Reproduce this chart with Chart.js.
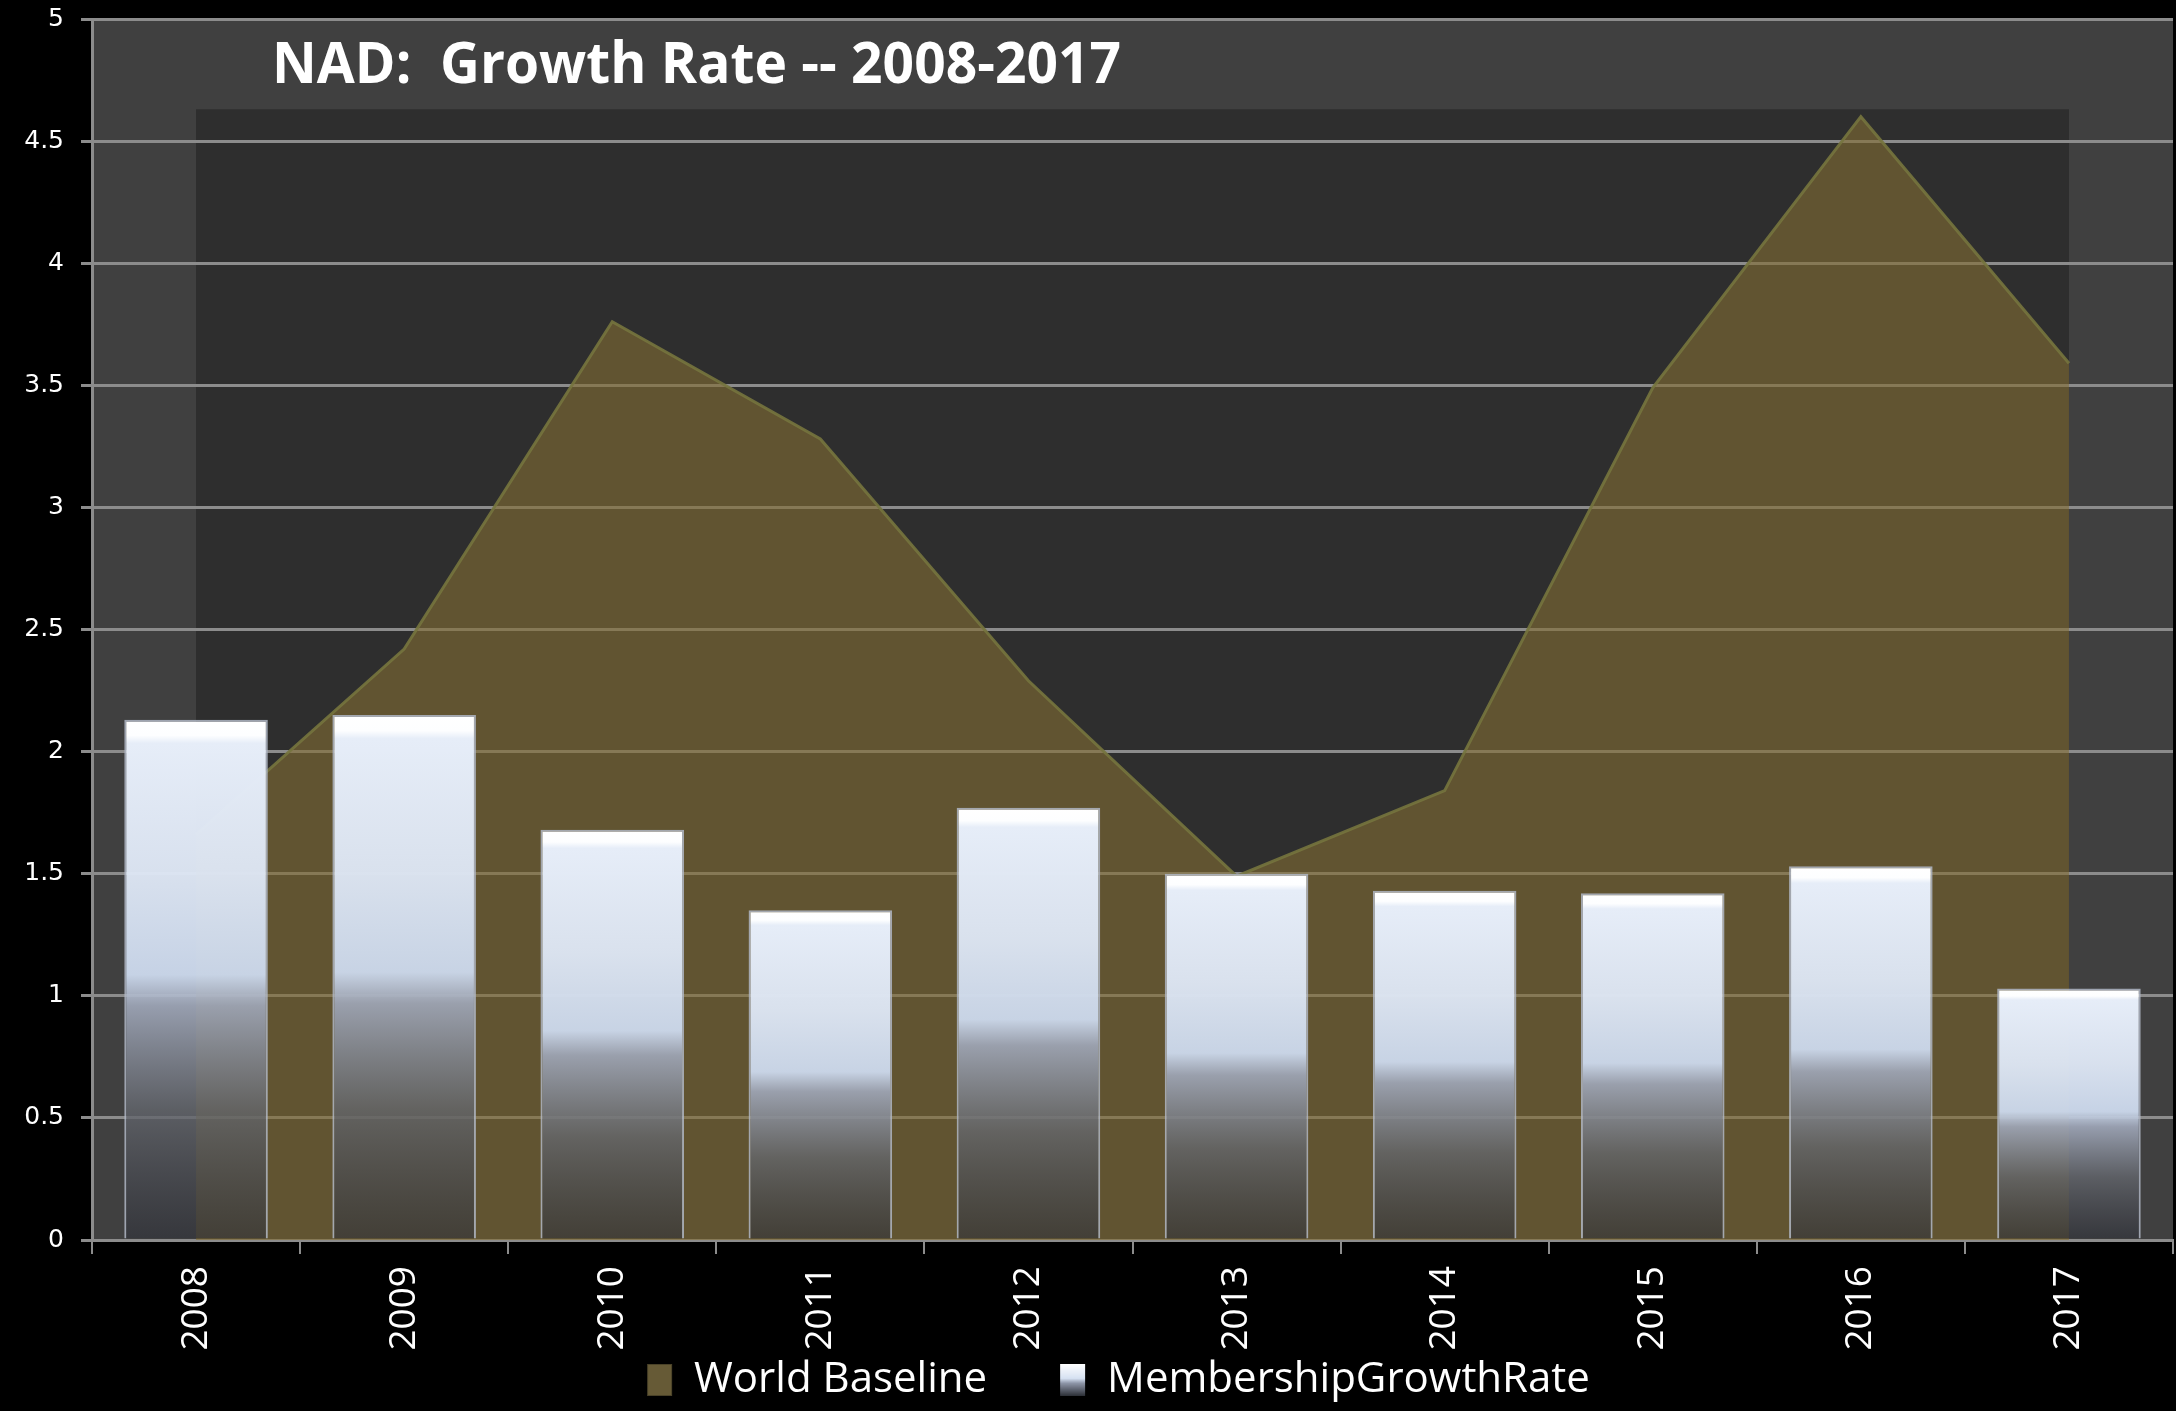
<!DOCTYPE html>
<html>
<head>
<meta charset="utf-8">
<title>NAD: Growth Rate -- 2008-2017</title>
<script src="https://cdn.jsdelivr.net/npm/chart.js@4.4.1/dist/chart.umd.min.js"></script>
<style>
  html, body { margin: 0; padding: 0; background: #000; }
  #wrap { width: 2176px; height: 1411px; }
</style>
</head>
<body>
<div id="wrap"><canvas id="growthChart" width="2176" height="1411"></canvas></div>
<script>
  const TITLE_TEXT = "NAD:  Growth Rate -- 2008-2017";
  const years = ["2008", "2009", "2010", "2011", "2012", "2013", "2014", "2015", "2016", "2017"];
  const membershipGrowthRate = [2.13, 2.15, 1.68, 1.35, 1.77, 1.50, 1.43, 1.42, 1.53, 1.03];
  const worldBaseline = [1.66, 2.42, 3.76, 3.28, 2.29, 1.49, 1.84, 3.49, 4.60, 3.59];
  // darker inner panel behind the area (Excel plot-area decoration)
  const innerPanel = [4.63, 4.63, 4.63, 4.63, 4.63, 4.63, 4.63, 4.63, 4.63, 4.63];
  const yMin = 0;
  const yMax = 5;
  const yStep = 0.5;

  const GRID_GRAY = "#8c8c8c";

  function barGradient(context) {
    const chart = context.chart;
    if (!chart.chartArea || context.type !== "data") return "#dde6f3";
    const yScale = chart.scales.y;
    const top = yScale.getPixelForValue(context.raw);
    const base = yScale.getPixelForValue(0);
    if (!isFinite(top) || !isFinite(base) || base - top < 2) return "#dde6f3";
    const g = chart.ctx.createLinearGradient(0, top, 0, base);
    g.addColorStop(0, "#ffffff");
    g.addColorStop(0.03, "#fdfeff");
    g.addColorStop(0.045, "#e6edf8");
    g.addColorStop(0.3, "rgba(222,231,245,0.96)");
    g.addColorStop(0.49, "rgba(205,218,238,0.95)");
    g.addColorStop(0.55, "rgba(160,168,186,0.9)");
    g.addColorStop(0.75, "rgba(100,103,110,0.78)");
    g.addColorStop(1, "rgba(48,50,58,0.62)");
    return g;
  }

  function legendMarker(kind) {
    // wide transparent canvas, swatch at its right end
    const c = document.createElement("canvas");
    c.width = 90;
    c.height = 34;
    const ctx = c.getContext("2d");
    const x = 64;
    if (kind === "area") {
      ctx.fillStyle = "#665a36";
      ctx.fillRect(x, 1, 25, 32);
      ctx.strokeStyle = "#4a4228";
      ctx.strokeRect(x + 0.5, 1.5, 24, 31);
    } else {
      const g = ctx.createLinearGradient(0, 1, 0, 33);
      g.addColorStop(0, "#ffffff");
      g.addColorStop(0.45, "#d6e1f2");
      g.addColorStop(0.6, "#8e96a8");
      g.addColorStop(1, "#2c2f36");
      ctx.fillStyle = g;
      ctx.fillRect(x, 1, 25, 32);
    }
    return c;
  }

  const panelBackground = {
    id: "panelBackground",
    beforeDraw(chart) {
      const ctx = chart.ctx;
      const a = chart.chartArea;
      ctx.save();
      ctx.fillStyle = "#000";
      ctx.fillRect(0, 0, chart.width, chart.height);
      ctx.fillStyle = "#404040";
      ctx.fillRect(a.left, a.top, a.right - a.left, a.bottom - a.top);
      ctx.restore();
    },
    afterDatasetDraw(chart, args) {
      // gridlines sit above the inner panel but below the area and bars
      if (args.index === 2) {
        chart.scales.y.drawGrid(chart.chartArea);
      }
    },
  };

  const panelTitle = {
    id: "panelTitle",
    afterDatasetsDraw(chart) {
      const ctx = chart.ctx;
      ctx.save();
      ctx.font = 'bold 57px "Open Sans"';
      const w = ctx.measureText(TITLE_TEXT).width;
      ctx.translate(272, 83);
      ctx.scale(849 / w, 1);
      ctx.fillStyle = "#ffffff";
      ctx.textBaseline = "alphabetic";
      ctx.fillText(TITLE_TEXT, 0, 0);
      ctx.restore();
    },
  };

  const markers = [legendMarker("bar"), legendMarker("area")];

  new Chart(document.getElementById("growthChart"), {
    type: "bar",
    data: {
      labels: years,
      datasets: [
        {
          label: "MembershipGrowthRate",
          data: membershipGrowthRate,
          backgroundColor: barGradient,
          borderColor: "rgba(175,182,196,0.85)",
          borderWidth: 2,
          borderSkipped: "bottom",
          categoryPercentage: 1,
          barPercentage: 0.69,
        },
        {
          type: "line",
          label: "World Baseline",
          data: worldBaseline,
          fill: "origin",
          backgroundColor: "rgba(130,110,52,0.61)",
          borderColor: "rgba(118,116,62,0.9)",
          borderWidth: 3,
          tension: 0,
          pointRadius: 0,
        },
        {
          type: "line",
          label: "panel",
          data: innerPanel,
          fill: "origin",
          backgroundColor: "#2e2e2e",
          borderWidth: 0,
          tension: 0,
          pointRadius: 0,
        },
      ],
    },
    options: {
      responsive: false,
      animation: false,
      layout: { padding: { top: 19, right: 3, bottom: 0, left: 0 } },
      plugins: {
        tooltip: { enabled: false },
        legend: {
          position: "bottom",
          labels: {
            color: "#ffffff",
            font: { family: "Open Sans", size: 42 },
            usePointStyle: true,
            pointStyleWidth: 90,
            boxHeight: 33,
            padding: 9,
            filter: (item) => item.datasetIndex !== 2,
            sort: (a, b) => b.datasetIndex - a.datasetIndex,
            generateLabels(chart) {
              const items = Chart.defaults.plugins.legend.labels.generateLabels(chart);
              items.forEach((item) => {
                item.pointStyle = markers[item.datasetIndex] || markers[0];
              });
              return items;
            },
          },
        },
      },
      scales: {
        x: {
          offset: true,
          grid: {
            offset: true,
            drawOnChartArea: false,
            color: GRID_GRAY,
            lineWidth: 2,
            tickLength: 14,
          },
          border: { color: GRID_GRAY, width: 3 },
          ticks: {
            color: "#ffffff",
            font: { family: "Open Sans", size: 37 },
            minRotation: 90,
            maxRotation: 90,
            padding: 12,
          },
          afterFit(scale) {
            scale.height = 110;
          },
        },
        y: {
          min: yMin,
          max: yMax,
          grid: {
            color: GRID_GRAY,
            lineWidth: 3,
            tickLength: 11,
          },
          border: { color: GRID_GRAY, width: 3 },
          ticks: {
            stepSize: yStep,
            color: "#ffffff",
            font: { family: "DejaVu Sans", size: 25 },
            padding: 17,
            callback: (value) => String(Number(value.toFixed(1))),
          },
          afterFit(scale) {
            scale.width = 92;
            scale.paddingTop = 0;
            scale.paddingBottom = 0;
          },
        },
      },
    },
    plugins: [panelBackground, panelTitle],
  });
</script>
</body>
</html>
